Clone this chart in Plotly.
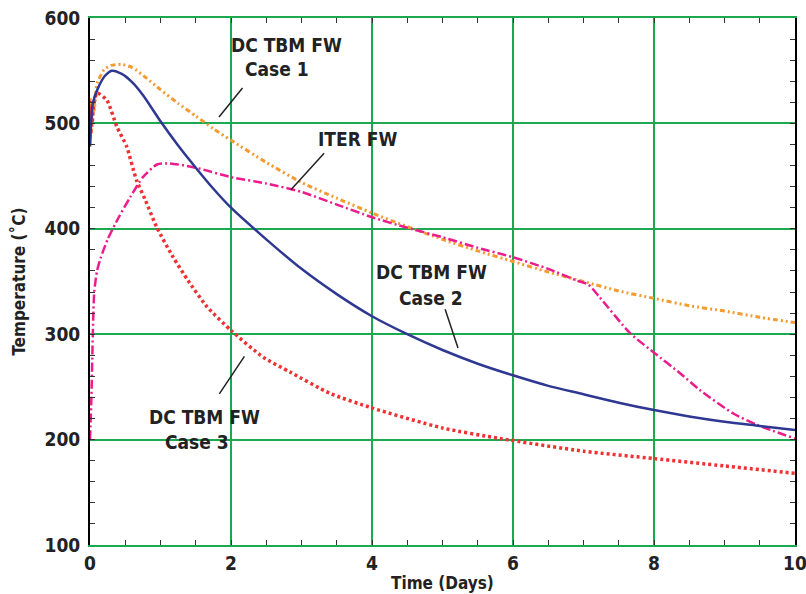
import plotly.graph_objects as go

# ---------------- data ----------------
case1_t = [0, 0.004, 0.008, 0.012, 0.016, 0.02, 0.03, 0.045, 0.06, 0.08, 0.1, 0.2, 0.3, 0.45, 0.6, 0.8, 1.0, 1.25,
           1.5, 1.75, 2.0, 2.5, 3.0, 3.5, 4.0, 4.5, 5.0, 5.5, 6.0, 6.5, 7.0, 7.5, 8.0, 8.5, 9.0, 9.5, 10.0]
case1_T = [480, 524, 484, 516, 490, 510, 496, 520, 512, 528, 538, 551, 555, 556, 553, 543, 532, 519,
           507, 495, 484, 463, 444, 429, 415, 402, 390, 379, 369, 359, 350, 341, 334, 327, 322, 316, 311]

case2_t = [0, 0.02, 0.04, 0.11, 0.21, 0.31, 0.45, 0.6, 0.75, 1.0, 1.25, 1.5, 1.75, 2.0, 2.5, 3.0, 3.5,
           4.0, 4.5, 5.0, 5.5, 6.0, 6.5, 7.0, 7.5, 8.0, 8.5, 9.0, 9.5, 10.0]
case2_T = [478, 505, 519, 533, 545, 550, 547, 539, 527, 502, 479, 458, 438, 420, 390, 362, 338,
           317, 300, 285, 272, 261, 251, 243, 235, 228, 222, 217, 213, 209]

case3_t = [0, 0.005, 0.01, 0.02, 0.03, 0.05, 0.08, 0.1, 0.24, 0.38, 0.52, 0.66, 0.78, 0.95, 1.18, 1.39, 1.66,
           2.01, 2.46, 2.84, 3.4, 4.0, 5.0, 5.82, 7.0, 8.0, 9.0, 10.0]
case3_T = [495, 520, 490, 512, 500, 516, 526, 529, 522, 497, 478, 446, 428, 401, 373, 351, 326,
           303, 278, 264, 244, 230, 211, 201, 189, 182, 175, 168]

iter_t = [0, 0.02, 0.04, 0.06, 0.1, 0.15, 0.25, 0.4, 0.57, 0.75, 0.95, 1.13, 1.5, 2.0, 2.5, 3.0, 3.5, 4.0, 4.5,
          5.0, 5.5, 6.0, 6.5, 6.9, 7.07, 7.23, 7.66, 8.01, 8.37, 8.65, 9.12, 9.46, 10.0]
iter_T = [200, 240, 300, 340, 360, 372, 390, 410, 430, 449, 461, 462, 458, 449, 443, 435, 423, 411, 401,
          392, 382, 373, 362, 351, 347, 335, 301, 282, 263, 247, 225, 214, 201]

x_ticks = [0, 2, 4, 6, 8, 10]
y_ticks = [100, 200, 300, 400, 500, 600]

FONT = "DejaVu Sans Condensed, Liberation Sans Narrow, Liberation Sans, Arial, sans-serif"
GREEN = "#1BA84F"

fig = go.Figure()
fig.add_trace(go.Scatter(x=case1_t, y=case1_T, mode="lines", name="DC TBM FW Case 1",
                         line=dict(color="#F39A30", width=3, dash="5px,3px,2px,3px,2px,3px",
                                   shape="spline", smoothing=0.6)))
fig.add_trace(go.Scatter(x=iter_t, y=iter_T, mode="lines", name="ITER FW",
                         line=dict(color="#EC1C8C", width=2.5, dash="9px,3px,2px,3px",
                                   shape="spline", smoothing=0.6)))
fig.add_trace(go.Scatter(x=case3_t, y=case3_T, mode="lines", name="DC TBM FW Case 3",
                         line=dict(color="#EE3131", width=3.5, dash="3px,3px",
                                   shape="spline", smoothing=0.6)))
fig.add_trace(go.Scatter(x=case2_t, y=case2_T, mode="lines", name="DC TBM FW Case 2",
                         line=dict(color="#2E3892", width=2.5, shape="spline", smoothing=0.8)))

tickfont = dict(family=FONT, size=19, color="#222222", weight="bold")
fig.update_xaxes(range=[0, 10], tickvals=x_ticks, ticks="inside", ticklen=5, tickcolor="#333333",
                 showgrid=True, gridcolor=GREEN, gridwidth=1.5, zeroline=False,
                 showline=True, linecolor=GREEN, linewidth=2, mirror="allticks", automargin=False,
                 ticklabeloverflow="allow",
                 minor=dict(dtick=0.5, ticks="inside", ticklen=5, tickcolor="#333333", showgrid=False),
                 tickfont=tickfont)
fig.update_yaxes(range=[100, 600], tickvals=y_ticks, ticks="inside", ticklen=5, tickcolor="#333333",
                 showgrid=True, gridcolor=GREEN, gridwidth=1.5, zeroline=False,
                 showline=True, linecolor="black", linewidth=2, mirror="allticks", automargin=False,
                 ticklabeloverflow="allow",
                 minor=dict(dtick=20, ticks="inside", ticklen=5, tickcolor="#333333", showgrid=False),
                 tickfont=tickfont, ticklabelstandoff=4)

lab = dict(family=FONT, size=19, color="#222222", weight="bold")
ann = []
# leader lines
ann.append(dict(x=1.83, y=506, ax=2.18, ay=535, axref="x", ayref="y", showarrow=True, arrowhead=0,
                arrowwidth=1.5, arrowcolor="#222222", text=""))
ann.append(dict(x=2.85, y=437, ax=3.34, ay=473, axref="x", ayref="y", showarrow=True, arrowhead=0,
                arrowwidth=1.5, arrowcolor="#222222", text=""))
ann.append(dict(x=5.22, y=287, ax=5.03, ay=325, axref="x", ayref="y", showarrow=True, arrowhead=0,
                arrowwidth=1.5, arrowcolor="#222222", text=""))
ann.append(dict(x=2.19, y=279, ax=1.82, ay=242, axref="x", ayref="y", showarrow=True, arrowhead=0,
                arrowwidth=1.5, arrowcolor="#222222", text=""))
# labels
for (lx, ly, txt) in [(2.79, 574, "DC TBM FW"), (2.65, 552, "Case 1"),
                      (3.79, 485, "ITER FW"),
                      (4.85, 359, "DC TBM FW"), (4.84, 334, "Case 2"),
                      (1.63, 221, "DC TBM FW"), (1.52, 198, "Case 3")]:
    ann.append(dict(x=lx, y=ly, text=txt, showarrow=False, font=lab, xanchor="center", yanchor="middle"))
# axis titles
ann.append(dict(xref="paper", yref="paper", x=-0.102, y=0.5, xanchor="center", yanchor="middle",
                text="Temperature (˚C)", textangle=-90,
                showarrow=False, font=dict(family=FONT, size=17, color="#222222", weight="bold")))
ann.append(dict(xref="paper", yref="paper", x=0.5, y=-0.072, xanchor="center", yanchor="middle",
                text="Time (Days)",
                showarrow=False, font=dict(family=FONT, size=17, color="#222222", weight="bold")))

fig.update_layout(width=806, height=594, margin=dict(l=90, r=11, t=18, b=49, autoexpand=False),
                  paper_bgcolor="white", plot_bgcolor="white", showlegend=False,
                  annotations=ann)

fig.write_html("out.html")
